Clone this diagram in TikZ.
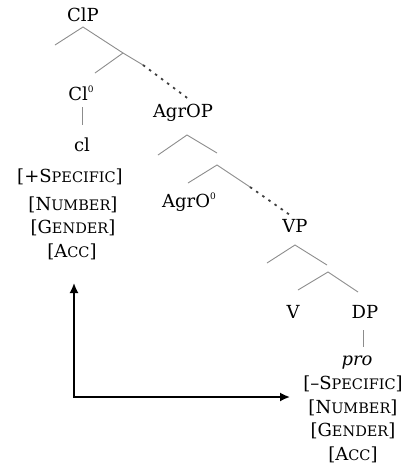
\documentclass[tikz,border=0pt]{standalone}
\usepackage{fontspec}
\setmainfont{DejaVu Serif}
\usetikzlibrary{arrows.meta}
\newcommand\fsc[1]{{\fontsize{14.5}{16}\selectfont #1}}
\newcommand\zsup{\raisebox{8pt}{\fontsize{9}{10}\selectfont 0}}
\begin{document}
\begin{tikzpicture}[x=1pt,y=-1pt,
  lbl/.style={font=\fontsize{18}{20}\selectfont, inner sep=0pt},
  br/.style={draw=black!45, line width=0.9pt},
  dotbr/.style={draw=black!75, line width=1.8pt, dash pattern=on 2.5pt off 5pt},
  arr/.style={draw=black, line width=1.7pt, {Latex[length=10pt,width=9pt]}-{Latex[length=10pt,width=9pt]}}]
\useasboundingbox (0,0) rectangle (405,475);
% ClP
\node[lbl] (clp) at (83,15) {ClP};
\coordinate (a1) at (83,27);
\coordinate (a1l) at (55,45);
\coordinate (a1r) at (123,53);
\draw[br] (a1l) -- (a1) -- (a1r);
\coordinate (b1l) at (95,73);
\coordinate (b1m) at (143,65);
\coordinate (b1r) at (190,100);
\draw[br] (b1l) -- (a1r) -- (b1m);
\draw[dotbr] (b1m) -- (b1r);
% Cl0
\node[lbl] (cl0) at (81,93) {Cl\zsup};
\coordinate (c0t) at (82,107);
\coordinate (c0b) at (82,125);
\draw[br] (c0t) -- (c0b);
\node[lbl] (clw) at (82,145) {cl};
\node[lbl] (f1) at (70,177) {[+S\fsc{PECIFIC}]};
\node[lbl] (f2) at (73,205) {[N\fsc{UMBER}]};
\node[lbl] (f3) at (73,228) {[G\fsc{ENDER}]};
\node[lbl] (f4) at (72,252) {[A\fsc{CC}]};
% AgrOP
\node[lbl] (agrop) at (183,113) {AgrOP};
\coordinate (a2) at (187,135);
\coordinate (a2l) at (158,155);
\coordinate (a2r) at (217,153);
\draw[br] (a2l) -- (a2) -- (a2r);
\coordinate (b2) at (217,165);
\coordinate (b2l) at (188,183);
\coordinate (b2m) at (250,187);
\coordinate (b2r) at (290,215);
\draw[br] (b2l) -- (b2) -- (b2m);
\draw[dotbr] (b2m) -- (b2r);
\node[lbl] (agro) at (189,202) {AgrO\zsup};
% VP
\node[lbl] (vp) at (295,226) {VP};
\coordinate (a3) at (295,245);
\coordinate (a3l) at (267,263);
\coordinate (a3r) at (327,265);
\draw[br] (a3l) -- (a3) -- (a3r);
\coordinate (b3) at (328,272);
\coordinate (b3l) at (298,290);
\coordinate (b3r) at (358,292);
\draw[br] (b3l) -- (b3) -- (b3r);
\node[lbl] (v) at (293,312) {V};
\node[lbl] (dp) at (365,312) {DP};
\coordinate (dpt) at (363,330);
\coordinate (dpb) at (363,347);
\draw[br] (dpt) -- (dpb);
\node[lbl] (pro) at (357,363) {\itshape pro};
\node[lbl] (g1) at (353,384) {[--S\fsc{PECIFIC}]};
\node[lbl] (g2) at (353,408) {[N\fsc{UMBER}]};
\node[lbl] (g3) at (353,431) {[G\fsc{ENDER}]};
\node[lbl] (g4) at (353,455) {[A\fsc{CC}]};
% arrow
\coordinate (at) at (74,283);
\coordinate (ah) at (290,397);
\draw[arr] (at) |- (ah);
\end{tikzpicture}
\end{document}
